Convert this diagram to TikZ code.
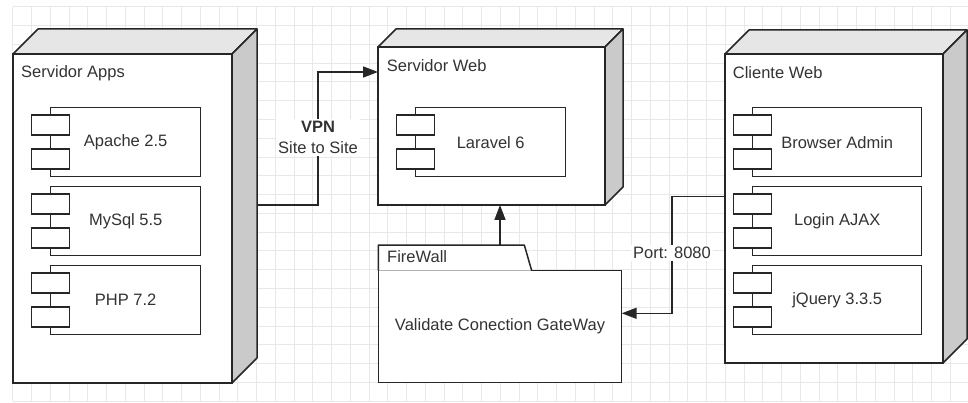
\documentclass[tikz,border=0pt]{standalone}
\usepackage{fontspec}
\setmainfont{Liberation Sans}
\usetikzlibrary{arrows.meta,calc}
\definecolor{ln}{HTML}{262626}
\definecolor{txt}{HTML}{333333}
\definecolor{topf}{HTML}{E6E6E6}
\definecolor{sidef}{HTML}{CACACA}
\definecolor{gridc}{HTML}{E8E8E8}
\newcommand{\dfont}{\fontsize{16.5}{21.6}\selectfont}
\newcommand{\nodefaces}[2]{%
  \filldraw[lw, fill=topf, line join=round] (#1.north west) -- ++(#2,-#2) -- ($(#1.north east)+(#2,-#2)$) -- (#1.north east) -- cycle;
  \filldraw[lw, fill=sidef, line join=round] (#1.north east) -- ++(#2,-#2) -- ($(#1.south east)+(#2,-#2)$) -- (#1.south east) -- cycle;
}
\tikzset{
  lw/.style={line width=1.5pt, draw=ln},
  front/.style={lw, fill=white, rectangle, inner sep=0pt, outer sep=0pt, text=txt, font=\dfont},
  comp/.style={lw, fill=white, rectangle, inner sep=0pt, outer sep=0pt, minimum height=69pt, text=txt, font=\dfont},
  portbox/.style={lw, fill=white, rectangle, inner sep=0pt, outer sep=0pt, minimum width=38pt, minimum height=20pt},
  title/.style={anchor=west, text=txt, inner sep=0pt, font=\dfont},
  conn/.style={lw, -{Triangle[length=15pt,width=11pt]}},
  lbl/.style={fill=white, text=txt, font=\dfont, align=center, inner sep=2pt}
}
\begin{document}
\begin{tikzpicture}[x=1pt,y=-1pt]
\useasboundingbox (0,0) rectangle (968,403);
\fill[white] (0,0) rectangle (968,403);
% grid
\foreach \i in {0,...,50} \draw[gridc, line width=0.8pt] (12.7+\i*18.75,6.7) -- (12.7+\i*18.75,401);
\foreach \j in {0,...,21} \draw[gridc, line width=0.8pt] (12.7,6.7+\j*18.78) -- (968,6.7+\j*18.78);

% Servidor Apps
\node[front, minimum width=219pt, minimum height=329pt] (apps) at (122.5,218.5) {};
\nodefaces{apps}{25}
\node[title] (appsT) at (21,73) {Servidor Apps};
\foreach \nm/\yy/\tx in {apache/142.2/Apache 2.5, mysql/221/MySql 5.5, php/299.8/PHP 7.2}{
  \node[comp, minimum width=150pt] (\nm) at (125.7,\yy) {\tx};
  \node[portbox] (\nm A) at ($(\nm.west)+(0,-17)$) {};
  \node[portbox] (\nm B) at ($(\nm.west)+(0,17)$) {};
}

% Servidor Web
\node[front, minimum width=227pt, minimum height=158pt] (web) at (491.5,126) {};
\nodefaces{web}{18}
\node[title] (webT) at (386.7,65.7) {Servidor Web};
\node[comp, minimum width=150pt] (laravel) at (490.7,142.2) {Laravel 6};
\node[portbox] (laravelA) at ($(laravel.west)+(0,-17)$) {};
\node[portbox] (laravelB) at ($(laravel.west)+(0,17)$) {};

% Cliente Web
\node[front, minimum width=218pt, minimum height=309pt] (cli) at (834,208.5) {};
\nodefaces{cli}{24}
\node[title] (cliT) at (732.7,73) {Cliente Web};
\foreach \nm/\yy/\tx in {browser/142.2/Browser Admin, login/221/Login AJAX, jquery/299.8/jQuery 3.3.5}{
  \node[comp, minimum width=169pt] (\nm) at (837.2,\yy) {\tx};
  \node[portbox] (\nm A) at ($(\nm.west)+(0,-17)$) {};
  \node[portbox] (\nm B) at ($(\nm.west)+(0,17)$) {};
}

% FireWall
\node[front, minimum width=243.4pt, minimum height=112pt] (fw) at (500,326.7) {Validate Conection GateWay};
\filldraw[lw, fill=white, line join=round] (fw.north west) -- ++(0,-25.7) -- ++(146,0) -- ($(fw.north west)+(153.4,0)$);
\node[title] (fwT) at (387,257) {FireWall};
\coordinate (fwtab) at ($(fw.north west)+(121.7,-25.7)$);
\draw[conn] (fwtab) -- (fwtab |- web.south);

% VPN connector
\coordinate (vpnS) at (257,205);
\coordinate (vpnM) at (318,72);
\draw[conn] (vpnS) -| (vpnM) -- (vpnM -| web.west);
\node[lbl] (vpnL) at (318,137.5) {\textbf{VPN}\\Site to Site};

% Port connector
\coordinate (pM) at (672,196.7);
\coordinate (pE) at (672,313.3);
\draw[conn] (pM -| cli.west) -- (pM) -- (pE) -- (pE -| fw.east);
\node[lbl] (pL) at (672,253.3) {Port: 8080};
\end{tikzpicture}
\end{document}
